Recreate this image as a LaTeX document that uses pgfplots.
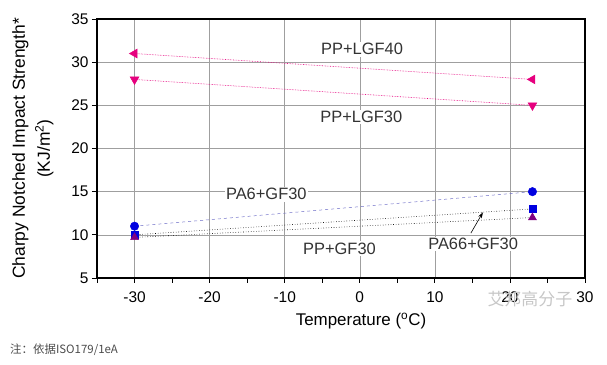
\documentclass[border=0pt]{standalone}
\usepackage{pgfplots}
\pgfplotsset{compat=1.18}
\usepackage{fontspec}
\setmainfont{Liberation Sans}
\newfontfamily\cjk{Noto Sans CJK SC}
\usetikzlibrary{arrows.meta}
\definecolor{mag}{HTML}{E6007E}
\definecolor{dblue}{HTML}{0000E0}
\definecolor{purp}{HTML}{800080}
\definecolor{lblue}{HTML}{7070C8}
\begin{document}
\begin{tikzpicture}
\useasboundingbox (0,0) rectangle (607bp,365bp);
\begin{axis}[
  at={(97bp,87bp)}, anchor=south west,
  scale only axis, width=488bp, height=259bp,
  xmin=-35, xmax=30, ymin=5, ymax=35,
  xtick={-30,-20,...,30}, minor xtick={-35,-25,...,25},
  ytick={5,10,...,35},
  tick align=outside, tick pos=left,
  major tick length=5bp, minor tick length=5bp,
  every tick/.style={black, line width=0.8pt},
  minor tick style={black, line width=0.8pt},
  grid=major, grid style={gray!75, line width=0.5pt},
  axis line style={black, line width=1.6pt},
  /pgf/number format/assume math mode=true,
  ticklabel style={font=\fontsize{15.5}{17}\selectfont},
  xticklabel style={yshift=-5bp},
  xlabel={Temperature (\textsuperscript{o}C)},
  xlabel style={font=\fontsize{17}{18}\selectfont, yshift=-4bp, xshift=20bp},
  ylabel={Charpy Notched Impact Strength*\\(KJ/m\textsuperscript{2})},
  ylabel style={font=\fontsize{17.5}{25}\selectfont, align=center, yshift=11bp},
  clip=false,
]
\addplot[mag, densely dotted, line width=0.6pt, mark=triangle*, mark size=5bp, mark options={solid, rotate=90, fill=mag}] coordinates {(-30,31) (23,28)};
\addplot[mag, densely dotted, line width=0.6pt, mark=triangle*, mark size=5bp, mark options={solid, rotate=180, fill=mag}] coordinates {(-30,28) (23,25)};
\addplot[lblue, dashed, line width=0.5pt, mark=*, mark size=4.2bp, mark options={solid, draw=dblue, fill=dblue}] coordinates {(-30,11) (23,15)};
\addplot[black, dotted, line width=0.6pt, mark=square*, mark size=3.6bp, mark options={solid, draw=dblue, fill=dblue}] coordinates {(-30,10) (23,13)};
\addplot[black, dotted, line width=0.6pt, mark=triangle*, mark size=4.5bp, mark options={solid, draw=purp, fill=purp}] coordinates {(-30,9.7) (23,12)};
\begin{scope}[every node/.style={font=\fontsize{16.5}{18}\selectfont, text=black!80, fill=white, inner sep=1.5bp}]
\node at (axis cs:0.3,31.5) {PP+LGF40};
\node at (axis cs:0.2,23.65) {PP+LGF30};
\node at (axis cs:-12.45,14.7) {PA6+GF30};
\node at (axis cs:-2.7,8.4) {PP+GF30};
\node at (axis cs:15.1,8.95) {PA66+GF30};
\end{scope}
\draw[-{Stealth[length=6bp,width=4bp]}, black, line width=0.6pt] (axis cs:14.8,10.2) -- (axis cs:16.4,12.6);
\end{axis}
\node[anchor=west, text=black!22, font=\cjk\fontsize{17}{18}\selectfont] at (484bp,66bp) {艾邦高分子};
\node[anchor=west, font=\cjk\fontsize{11.5}{12}\selectfont, text=black!70, inner sep=0pt] at (10bp,15bp) {注：依据ISO179/1eA};
\end{tikzpicture}
\end{document}
